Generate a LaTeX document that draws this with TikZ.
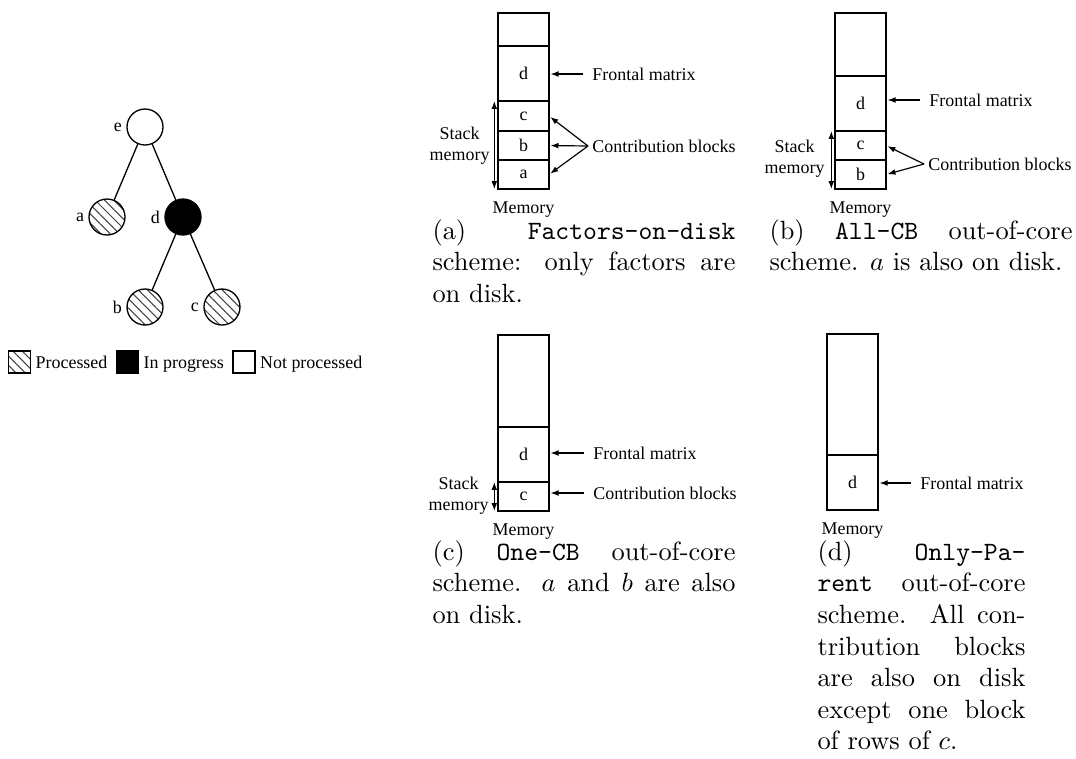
\documentclass[tikz,border=0pt]{standalone}
\usepackage{fontspec}
\newfontfamily\figfont{Liberation Serif}
\usetikzlibrary{arrows.meta, positioning, patterns.meta}

\begin{document}
\begin{tikzpicture}[
    x=0.379pt, y=-0.379pt,
    lbl/.style={font=\figfont\fontsize{6.8}{8}\selectfont, inner sep=1.5pt},
    legtext/.style={lbl, text height=1.6ex, text depth=0.4ex},
    memblk/.style={draw, line width=0.5pt, minimum width=19.33pt, inner sep=0pt, outer sep=0pt, font=\figfont\fontsize{6.8}{8}\selectfont},
    treenode/.style={circle, draw, line width=0.5pt, minimum size=13.64pt, inner sep=0pt},
    hatch/.style={pattern={Lines[angle=-45, distance=2.5pt, line width=0.4pt]}, pattern color=black!75},
    legbox/.style={draw, line width=0.5pt, minimum size=8.34pt, inner sep=0pt},
    arr/.style={-{Latex[length=3pt, width=2.2pt]}, line width=0.45pt, shorten >=0.6pt},
    dblarr/.style={{Latex[length=3pt, width=2.2pt]}-{Latex[length=3pt, width=2.2pt]}, line width=0.45pt},
    capt/.style={anchor=base west, inner sep=0pt, align=justify, font=\normalsize\sloppy}
]
  \useasboundingbox (0,0) rectangle (1076,758);

  % Tree
  \node[treenode, fill=white, label={[lbl]left:e}] (te) at (145,127) {};
  \node[treenode, hatch, label={[lbl]left:a}] (ta) at (107,217) {};
  \node[treenode, fill=black, label={[lbl]left:d}] (td) at (183,217) {};
  \node[treenode, hatch, label={[lbl]left:b}] (tb) at (145,307) {};
  \node[treenode, hatch, label={[lbl]left:c}] (tc) at (222,307) {};
  \draw[line width=0.5pt] (te) -- (ta);
  \draw[line width=0.5pt] (te) -- (td);
  \draw[line width=0.5pt] (td) -- (tb);
  \draw[line width=0.5pt] (td) -- (tc);

  % Legend
  \node[legbox, hatch] (lgp) at (19.5,362) {};
  \node[legtext, right=0pt of lgp] (lgpt) {Processed};
  \node[legbox, fill=black, right=1.5pt of lgpt] (lgi) {};
  \node[legtext, right=0pt of lgi] (lgit) {In progress};
  \node[legbox, right=1.5pt of lgit] (lgn) {};
  \node[legtext, right=0pt of lgn] (lgnt) {Not processed};

  % (a) Factors-on-disk
  \node[memblk, minimum height=12.51pt, anchor=north] (a0) at (523.5,13) {};
  \node[memblk, minimum height=20.85pt, below=0pt of a0] (a1) {d};
  \node[memblk, minimum height=11.37pt, below=0pt of a1] (a2) {c};
  \node[memblk, minimum height=10.99pt, below=0pt of a2] (a3) {b};
  \node[memblk, minimum height=10.99pt, below=0pt of a3] (a4) {a};
  \node[lbl, below=3pt of a4] (mema) {Memory};
  \node[lbl, anchor=west] (fma) at (588,74) {Frontal matrix};
  \draw[arr] ([xshift=-2pt]fma.west) -- (fma.west -| a1.east);
  \node[lbl, anchor=west] (cba) at (588,146) {Contribution blocks};
  \foreach \blk in {a2,a3,a4}
    \draw[arr] (cba.west) -- (\blk.east);
  \draw[dblarr] ([xshift=-1.4pt]a2.north west) -- ([xshift=-1.4pt]a4.south west);
  \node[lbl, anchor=east, align=center] (sma) at (494,146) {Stack\\memory};

  % (b) All-CB
  \node[memblk, minimum height=23.88pt, anchor=north] (b0) at (860.5,13) {};
  \node[memblk, minimum height=20.85pt, below=0pt of b0] (b1) {d};
  \node[memblk, minimum height=10.99pt, below=0pt of b1] (b2) {c};
  \node[memblk, minimum height=10.99pt, below=0pt of b2] (b3) {b};
  \node[lbl, below=3pt of b3] (memb) {Memory};
  \node[lbl, anchor=west] (fmb) at (925,100) {Frontal matrix};
  \draw[arr] ([xshift=-2pt]fmb.west) -- (fmb.west -| b1.east);
  \node[lbl, anchor=west] (cbb) at (924,164) {Contribution blocks};
  \foreach \blk in {b2,b3}
    \draw[arr] (cbb.west) -- (\blk.east);
  \draw[dblarr] ([xshift=-1.4pt]b2.north west) -- ([xshift=-1.4pt]b3.south west);
  \node[lbl, anchor=east, align=center] (smb) at (829,159) {Stack\\memory};

  % (c) One-CB
  \node[memblk, minimum height=34.87pt, anchor=north] (c0) at (523.5,335) {};
  \node[memblk, minimum height=20.85pt, below=0pt of c0] (c1) {d};
  \node[memblk, minimum height=10.99pt, below=0pt of c1, line width=0.8pt] (c2) {c};
  \node[lbl, below=3pt of c2] (memc) {Memory};
  \node[lbl, anchor=west] (fmc) at (589,453) {Frontal matrix};
  \draw[arr] ([xshift=-2pt]fmc.west) -- (fmc.west -| c1.east);
  \node[lbl, anchor=west] (cbc) at (589,493) {Contribution blocks};
  \draw[arr] ([xshift=-2pt]cbc.west) -- (cbc.west -| c2.east);
  \draw[dblarr] ([xshift=-1.4pt]c2.north west) -- ([xshift=-1.4pt]c2.south west);
  \node[lbl, anchor=east, align=center] (smc) at (493,496) {Stack\\memory};

  % (d) Only-Parent
  \node[memblk, minimum height=45.86pt, anchor=north] (d0) at (852.5,334) {};
  \node[memblk, minimum height=20.85pt, below=0pt of d0] (d1) {d};
  \node[lbl, below=3pt of d1] (memd) {Memory};
  \node[lbl, anchor=west] (fmd) at (916,483) {Frontal matrix};
  \draw[arr] ([xshift=-2pt]fmd.west) -- (fmd.west -| d1.east);

  % Captions
  \node[capt, text width=114.84pt] (capa) at (432,239)
    {(a) \texttt{Factors-on-disk}\linebreak scheme: only factors are\linebreak on disk.};
  \node[capt, text width=114.84pt] (capb) at (769,239)
    {(b) \texttt{All-CB} out-of-core\linebreak scheme. $a$ is also on disk.};
  \node[capt, text width=114.84pt] (capc) at (432,560)
    {(c) \texttt{One-CB} out-of-core\linebreak scheme. $a$ and $b$ are also\linebreak on disk.};
  \node[capt, text width=78.83pt] (capd) at (817,560)
    {(d) \texttt{Only-Pa-}\linebreak\texttt{rent} out-of-core\linebreak scheme. All con-\linebreak tribution blocks\linebreak are also on disk\linebreak except one block\linebreak of rows of $c$.};
\end{tikzpicture}
\end{document}
